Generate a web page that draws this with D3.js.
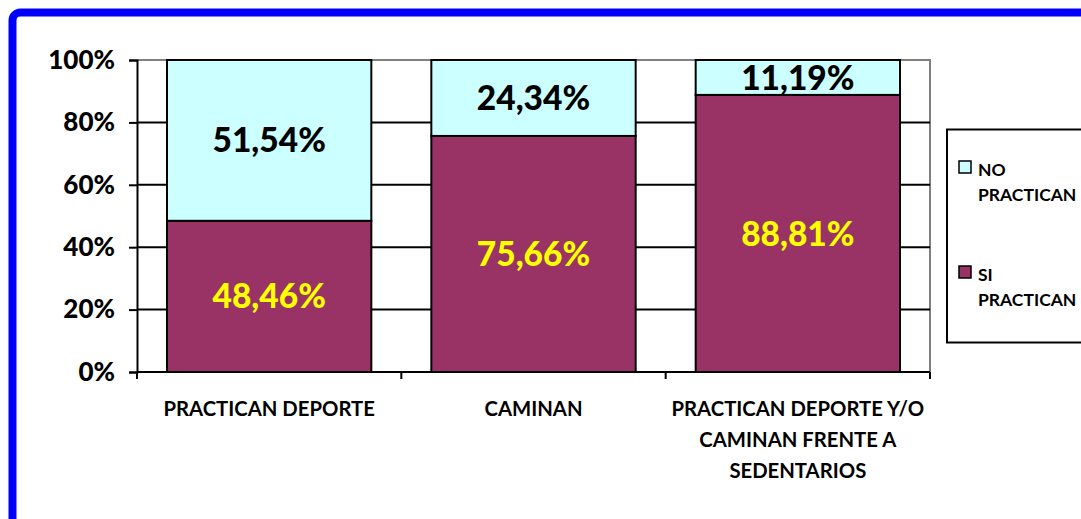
<!DOCTYPE html>
<html>
<head>
<meta charset="utf-8">
<script src="https://cdn.jsdelivr.net/npm/d3@7/dist/d3.min.js"></script>
<style>
  html, body { margin: 0; padding: 0; background: #fff; }
  svg { display: block; }
</style>
</head>
<body>
<svg id="chart" width="1081" height="519"></svg>
<script>
// Categories (each may wrap onto several lines)
const categories = [
  ["PRACTICAN DEPORTE"],
  ["CAMINAN"],
  ["PRACTICAN DEPORTE Y/O", "CAMINAN FRENTE A", "SEDENTARIOS"]
];
const categoryKeys = ["c1", "c2", "c3"];
// Series values, in percent
const siPractican = [48.46, 75.66, 88.81];
const noPractican = [51.54, 24.34, 11.19];
const seriesNames = [["NO", "PRACTICAN"], ["SI", "PRACTICAN"]];
const yTicks = [0, 20, 40, 60, 80, 100];

const svg = d3.select("#chart");
const plotLeft = 137, plotRight = 930, plotTop = 60, plotBottom = 372;
const fontStack = "Lato, 'Open Sans', sans-serif";

// Blue outer frame
svg.append("rect")
  .attr("x", 12.5).attr("y", 12.5)
  .attr("width", 1120).attr("height", 560)
  .attr("rx", 8).attr("ry", 8)
  .attr("fill", "#fff")
  .attr("stroke", "#0000FF").attr("stroke-width", 8);

const x = d3.scaleBand().domain(categoryKeys).range([plotLeft, plotRight]).paddingInner(0.227).paddingOuter(0.1135);
const xAxisScale = d3.scaleBand().domain(categoryKeys).range([plotLeft, plotRight]);
const y = d3.scaleLinear().domain([0, 100]).range([plotBottom, plotTop]);

// Plot area border (top and right) in gray
svg.append("path")
  .attr("d", `M${plotLeft},${plotTop}H${plotRight}V${plotBottom}`)
  .attr("fill", "none").attr("stroke", "#808080").attr("stroke-width", 2);

// Horizontal gridlines
svg.append("g").selectAll("line")
  .data(yTicks.filter(t => t > 0 && t < 100))
  .join("line")
  .attr("x1", plotLeft).attr("x2", plotRight)
  .attr("y1", d => y(d)).attr("y2", d => y(d))
  .attr("stroke", "#000").attr("stroke-width", 2);

// Stacked bars
const stackData = categoryKeys.map((k, i) => ({ key: k, si: siPractican[i], no: noPractican[i] }));
const stacked = d3.stack().keys(["si", "no"])(stackData);
const fills = { si: "#993366", no: "#CCFFFF" };
const labelColors = { si: "#FFFF00", no: "#000000" };

stacked.forEach(layer => {
  const g = svg.append("g");
  g.selectAll("rect").data(layer).join("rect")
    .attr("x", d => x(d.data.key))
    .attr("width", x.bandwidth())
    .attr("y", d => y(d[1]))
    .attr("height", d => y(d[0]) - y(d[1]))
    .attr("fill", fills[layer.key])
    .attr("stroke", "#000").attr("stroke-width", 2);
});

// Y axis
const yAxis = svg.append("g")
  .attr("transform", `translate(${plotLeft},0)`)
  .call(d3.axisLeft(y).tickValues(yTicks).tickSize(8).tickPadding(14).tickFormat(d => d + "%"));
yAxis.select(".domain").attr("stroke", "#000").attr("stroke-width", 2);
yAxis.selectAll(".tick line").attr("stroke", "#000").attr("stroke-width", 2);
yAxis.selectAll(".tick text")
  .attr("font-family", fontStack)
  .attr("font-weight", 900).attr("font-size", 26).attr("fill", "#000");

// X axis line with ticks at category boundaries
svg.append("line")
  .attr("x1", plotLeft).attr("x2", plotRight).attr("y1", plotBottom).attr("y2", plotBottom)
  .attr("stroke", "#000").attr("stroke-width", 2);
const boundaries = categoryKeys.map(k => xAxisScale(k)).concat([plotRight]);
svg.append("g").selectAll("line").data(boundaries).join("line")
  .attr("x1", d => d).attr("x2", d => d)
  .attr("y1", plotBottom).attr("y2", plotBottom + 7)
  .attr("stroke", "#000").attr("stroke-width", 2);

// Category labels
const catG = svg.append("g")
  .attr("font-family", fontStack)
  .attr("font-weight", "bold").attr("font-size", 20.3).attr("fill", "#000")
  .attr("text-anchor", "middle");
categoryKeys.forEach((k, i) => {
  const cx = xAxisScale(k) + xAxisScale.bandwidth() / 2;
  const t = catG.append("text").attr("x", cx).attr("y", 416);
  categories[i].forEach((line, j) => {
    t.append("tspan").attr("x", cx).attr("dy", j === 0 ? 0 : 31).text(line);
  });
});

// Value labels centred in each segment
const fmt = v => v.toFixed(2).replace(".", ",") + "%";
stacked.forEach(layer => {
  svg.append("g").selectAll("text").data(layer).join("text")
    .attr("x", d => x(d.data.key) + x.bandwidth() / 2)
    .attr("y", d => (y(d[0]) + y(d[1])) / 2)
    .attr("dy", "0.36em")
    .attr("text-anchor", "middle")
    .attr("font-family", fontStack)
    .attr("font-weight", 900).attr("font-size", 33.5)
    .attr("fill", labelColors[layer.key])
    .text(d => fmt(d.data[layer.key]));
});

// Legend
const legend = svg.append("g");
legend.append("rect")
  .attr("x", 947).attr("y", 129.5).attr("width", 200).attr("height", 213)
  .attr("fill", "#fff").attr("stroke", "#000").attr("stroke-width", 2);
const legendItems = [
  { name: seriesNames[0], fill: fills.no, y: 161 },
  { name: seriesNames[1], fill: fills.si, y: 266 }
];
legendItems.forEach(item => {
  legend.append("rect")
    .attr("x", 959).attr("y", item.y).attr("width", 12).attr("height", 12)
    .attr("fill", item.fill).attr("stroke", "#000").attr("stroke-width", 1.5);
  const t = legend.append("text")
    .attr("x", 978).attr("y", item.y + 15)
    .attr("font-family", fontStack)
    .attr("font-weight", "bold").attr("font-size", 17.5).attr("fill", "#000");
  item.name.forEach((line, j) => {
    t.append("tspan").attr("x", 978).attr("dy", j === 0 ? 0 : 25).text(line);
  });
});
</script>
</body>
</html>
